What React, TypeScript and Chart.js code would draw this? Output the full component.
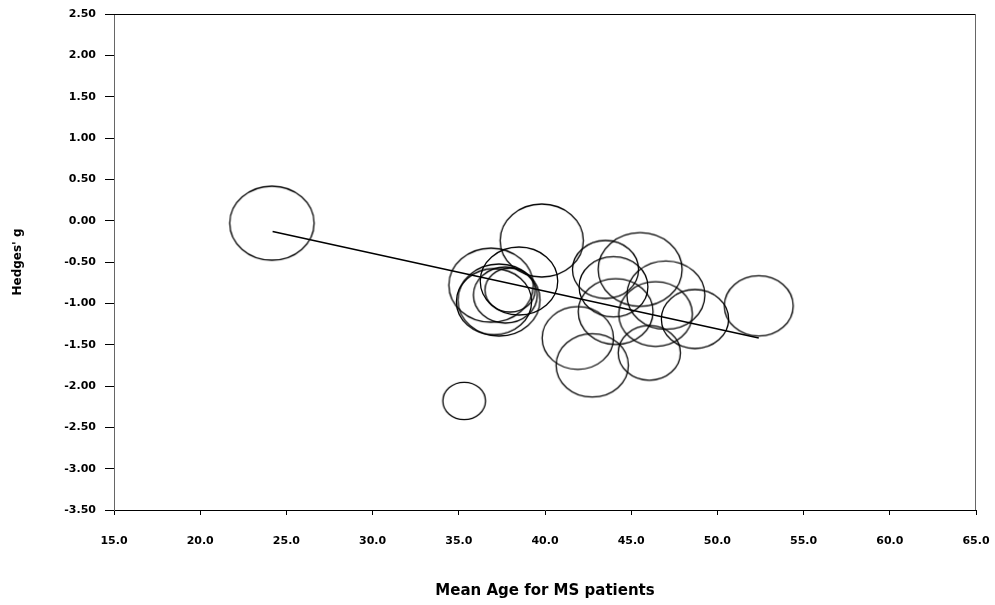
import React, { useEffect, useRef } from "react";
import { Chart, registerables } from "chart.js";

Chart.register(...registerables);

// Study bubbles: mean age of MS patients vs Hedges' g
const meanAge = [24.16, 36.87, 37.33, 37.04, 38.49, 37.97, 37.7, 39.81, 43.51, 45.52, 43.97, 47.01, 44.1, 46.41, 48.7, 41.9, 42.74, 46.05, 35.31, 52.4];
const hedgesG = [-0.03, -0.78, -0.96, -0.98, -0.73, -0.84, -0.9, -0.24, -0.59, -0.59, -0.8, -0.9, -1.1, -1.13, -1.19, -1.42, -1.75, -1.6, -2.18, -1.03];
const bubbleRadius = [37, 37, 36, 33, 34, 22, 28, 36.5, 29, 36.8, 30.2, 34.2, 32.8, 32.3, 29.5, 31.3, 31.7, 27.3, 18.7, 30.2];

// Meta-regression line
const trendAge = [24.2, 52.4];
const trendG = [-0.13, -1.42];

const FONT = "'DejaVu Sans', sans-serif";

function ellipseSprite(r: number): HTMLCanvasElement {
  const rx = r * 1.14;
  const ry = r;
  const c = document.createElement("canvas");
  c.width = Math.ceil(rx * 2 + 4);
  c.height = Math.ceil(ry * 2 + 4);
  const g = c.getContext("2d")!;
  g.strokeStyle = "#000";
  g.lineWidth = 1.3;
  g.beginPath();
  g.ellipse(c.width / 2, c.height / 2, rx, ry, 0, 0, Math.PI * 2);
  g.stroke();
  return c;
}

const framePlugin = {
  id: "frame",
  afterDraw(chart: any) {
    const { ctx, chartArea } = chart;
    ctx.save();
    ctx.lineWidth = 1;
    ctx.strokeStyle = "#000";
    ctx.beginPath();
    ctx.moveTo(chartArea.left, chartArea.top + 0.5);
    ctx.lineTo(chartArea.right, chartArea.top + 0.5);
    ctx.stroke();
    ctx.strokeStyle = "#666";
    ctx.beginPath();
    ctx.moveTo(chartArea.right - 0.5, chartArea.top);
    ctx.lineTo(chartArea.right - 0.5, chartArea.bottom);
    ctx.stroke();
    ctx.restore();
  },
};

export default function App() {
  const ref = useRef<HTMLCanvasElement | null>(null);

  useEffect(() => {
    if (!ref.current) return;
    const sprites = bubbleRadius.map((r) => ellipseSprite(r));
    const chart = new Chart(ref.current, {
      type: "bubble",
      data: {
        datasets: [
          {
            type: "line",
            label: "trend",
            data: trendAge.map((x, i) => ({ x, y: trendG[i] })),
            borderColor: "#000",
            borderWidth: 1.5,
            pointRadius: 0,
            fill: false,
            order: 0,
          } as any,
          {
            type: "bubble",
            label: "studies",
            data: meanAge.map((x, i) => ({ x, y: hedgesG[i], r: bubbleRadius[i] })),
            pointStyle: (c: any) => sprites[c.dataIndex] ?? "circle",
            backgroundColor: "rgba(0,0,0,0)",
            borderColor: "#000",
            borderWidth: 1,
            order: 1,
          } as any,
        ],
      },
      options: {
        responsive: false,
        animation: false,
        layout: { autoPadding: false, padding: { top: 14, right: 19, left: 0, bottom: 0 } },
        plugins: { legend: { display: false }, tooltip: { enabled: false } },
        scales: {
          x: {
            type: "linear",
            min: 15,
            max: 65,
            ticks: {
              stepSize: 5,
              callback: (v: any) => Number(v).toFixed(1),
              font: { family: FONT, size: 11, weight: "bold" },
              color: "#000",
              padding: 20,
              maxRotation: 0,
            },
            grid: { drawOnChartArea: false, tickLength: 5, color: "#000" },
            border: { color: "#000" },
            title: {
              display: true,
              text: "Mean Age for MS patients",
              font: { family: FONT, size: 15, weight: "bold" },
              color: "#000",
              padding: { top: 0, bottom: 5 },
            },
            afterFit: (s: any) => {
              s.height = 95;
              s.paddingLeft = 0;
              s.paddingRight = 0;
            },
          },
          y: {
            type: "linear",
            min: -3.5,
            max: 2.5,
            ticks: {
              stepSize: 0.5,
              callback: (v: any) => Number(v).toFixed(2),
              font: { family: FONT, size: 11, weight: "bold" },
              color: "#000",
              padding: 9,
            },
            grid: { drawOnChartArea: false, tickLength: 9, color: "#000" },
            border: { color: "#666" },
            title: {
              display: true,
              text: "Hedges' g",
              font: { family: FONT, size: 12, weight: "bold" },
              color: "#000",
              padding: { top: 11, bottom: 0 },
            },
            afterFit: (s: any) => {
              s.width = 114;
              s.paddingTop = 0;
              s.paddingBottom = 0;
            },
          },
        },
      } as any,
      plugins: [framePlugin],
    });
    return () => chart.destroy();
  }, []);

  return (
    <div style={{ position: "absolute", left: 0, top: 0, width: 995, height: 605, background: "#fff" }}>
      <canvas ref={ref} width={995} height={605} style={{ display: "block" }} />
    </div>
  );
}
